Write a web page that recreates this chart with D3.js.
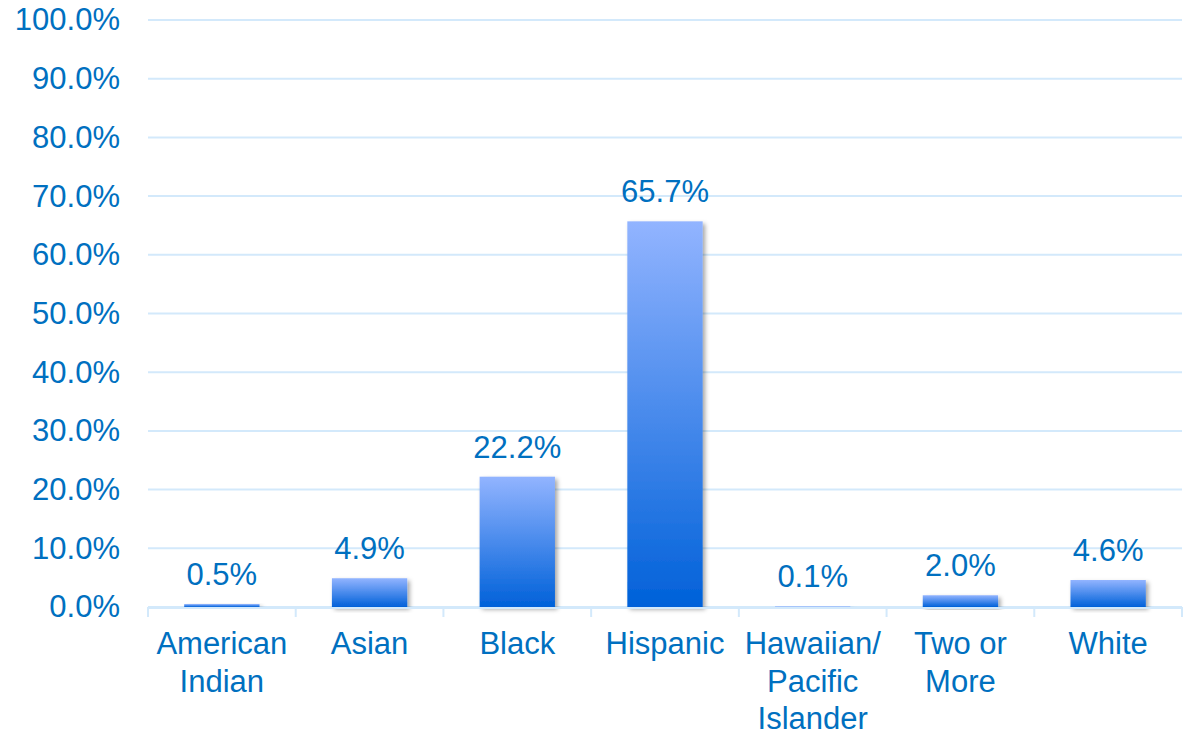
<!DOCTYPE html>
<html><head><meta charset="utf-8">
<script src="https://cdn.jsdelivr.net/npm/d3@7/dist/d3.min.js"></script>
<style>body{margin:0;background:#fff;} svg{display:block;}</style>
</head><body>
<svg id="chart" width="1187" height="734"></svg>
<script>
const categories = ["American Indian", "Asian", "Black", "Hispanic", "Hawaiian/ Pacific Islander", "Two or More", "White"];
const categoryLines = [["American","Indian"],["Asian"],["Black"],["Hispanic"],["Hawaiian/","Pacific","Islander"],["Two or","More"],["White"]];
const values = [0.5, 4.9, 22.2, 65.7, 0.1, 2.0, 4.6];
const yTicks = [0,10,20,30,40,50,60,70,80,90,100];

(function(){
const svg = d3.select("#chart");
const mLeft = 148, mRight = 1182, mTop = 20, mBottom = 607;
const txt = "#0070C0", grid = "#d3e9fb";
const font = "'Liberation Sans', Arial, sans-serif";

const x = d3.scaleBand().domain(categories).range([mLeft, mRight]).paddingInner(0.49).paddingOuter(0.245);
const y = d3.scaleLinear().domain([0, 100]).range([mBottom, mTop]);

const defs = svg.append("defs");
const g = defs.append("linearGradient").attr("id","barGrad").attr("x1",0).attr("y1",0).attr("x2",0).attr("y2",1);
g.append("stop").attr("offset","0%").attr("stop-color","#92b4ff");
g.append("stop").attr("offset","100%").attr("stop-color","#0061d9");
const f = defs.append("filter").attr("id","shadow").attr("x","-20%").attr("y","-20%").attr("width","140%").attr("height","140%");
f.append("feDropShadow").attr("dx",2.5).attr("dy",2.5).attr("stdDeviation",2).attr("flood-color","#000").attr("flood-opacity",0.35);

// gridlines
svg.append("g").selectAll("line").data(yTicks).join("line")
  .attr("x1", mLeft).attr("x2", mRight).attr("y1", d=>y(d)).attr("y2", d=>y(d))
  .attr("stroke", grid).attr("stroke-width", 2);

// y axis labels
const yAxis = d3.axisLeft(y).tickValues(yTicks).tickFormat(d => d.toFixed(1) + "%").tickSize(0).tickPadding(0);
const ya = svg.append("g").attr("transform", `translate(120,0)`).call(yAxis);
ya.select(".domain").remove();
ya.selectAll("text").attr("fill", txt).style("font-family", font).style("font-size", "31px");

// bars
svg.append("g").selectAll("rect").data(values).join("rect")
  .attr("x", (d,i)=>x(categories[i])).attr("width", x.bandwidth())
  .attr("y", d=>y(d)).attr("height", d=>Math.max(1.5, y(0)-y(d)))
  .attr("fill","url(#barGrad)").attr("filter","url(#shadow)");

// x axis line and ticks
svg.append("line").attr("x1", mLeft).attr("x2", mRight).attr("y1", mBottom+1).attr("y2", mBottom+1).attr("stroke", grid).attr("stroke-width", 2);
const edges = categories.map(c => x(c) - x.step()*x.paddingInner()/2).concat([mRight]);
edges[0] = mLeft;
svg.append("g").selectAll("line").data(edges).join("line")
  .attr("x1", d=>d).attr("x2", d=>d).attr("y1", mBottom).attr("y2", mBottom+10)
  .attr("stroke", grid).attr("stroke-width", 2);

// data labels
svg.append("g").selectAll("text").data(values).join("text")
  .attr("x", (d,i)=>x(categories[i]) + x.bandwidth()/2)
  .attr("y", d=>y(d) - 19)
  .attr("text-anchor","middle").attr("fill", txt)
  .style("font-family", font).style("font-size","31px")
  .text(d=>d.toFixed(1)+"%");

// category labels
const cl = svg.append("g").selectAll("text").data(categories).join("text")
  .attr("x", c=>x(c) + x.bandwidth()/2).attr("y", 654)
  .attr("text-anchor","middle").attr("fill", txt)
  .style("font-family", font).style("font-size","31px");
cl.each(function(c,i){
  d3.select(this).selectAll("tspan").data(categoryLines[i]).join("tspan")
    .attr("x", x(c) + x.bandwidth()/2).attr("dy", (d,j)=> j===0 ? 0 : 37.5).text(d=>d);
});
})();
</script>
</body></html>
